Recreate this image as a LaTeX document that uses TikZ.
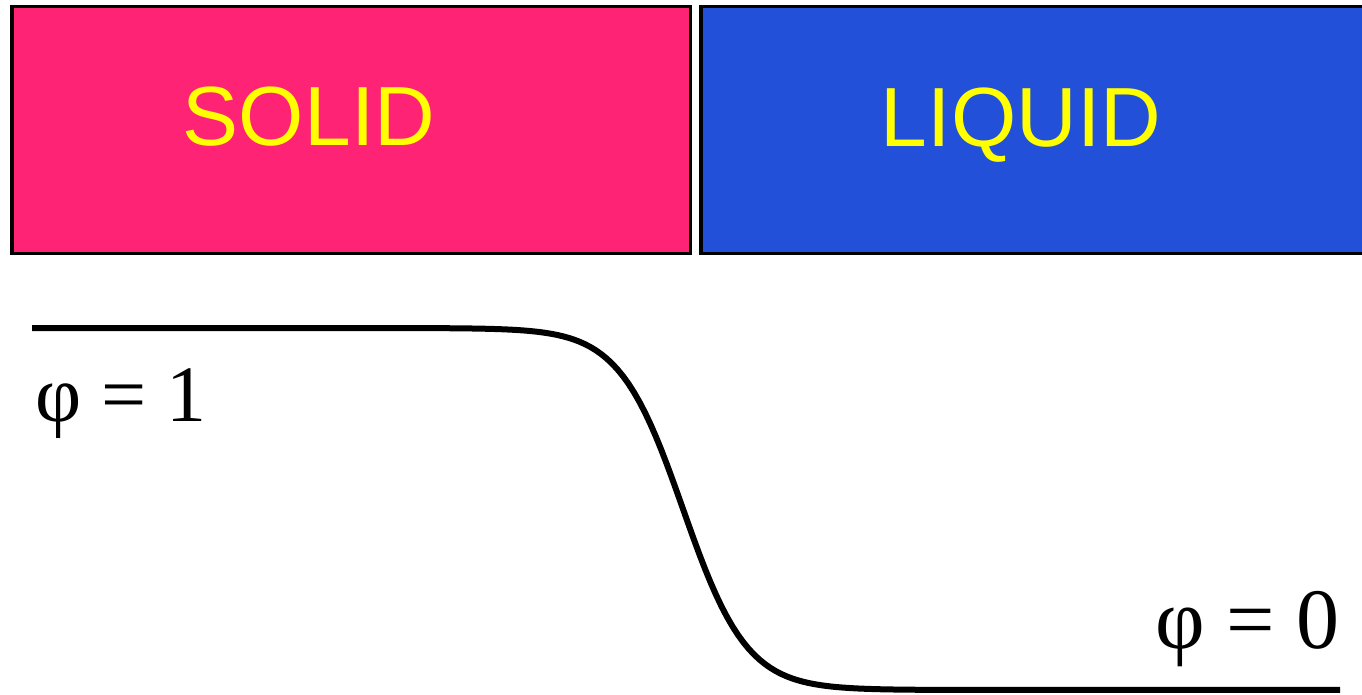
\documentclass[tikz,border=0pt]{standalone}
\usepackage{fontspec}
\usepackage{xcolor}
\usepackage{tikz}
\newfontfamily\boxfont{Liberation Sans}
\newfontfamily\phifont{Liberation Serif}
\definecolor{solidpink}{RGB}{255,35,118}
\definecolor{liquidblue}{RGB}{34,80,216}
\definecolor{labelyellow}{RGB}{255,255,0}

\begin{document}
\begin{tikzpicture}[x=1pt, y=-1pt,
        phase/.style={draw=black, line width=3.5pt},
        phasetext/.style={anchor=base, inner sep=0pt, text=labelyellow,
            font=\boxfont\fontsize{84}{90}\selectfont},
        philabel/.style={inner sep=0pt, font=\phifont\fontsize{80}{86}\selectfont}]
        \useasboundingbox (0,0) rectangle (1362,695);
        \filldraw[phase, fill=solidpink] (11.75,6.75) rectangle (690.25,253.25);
        \filldraw[phase, fill=liquidblue] (700.75,6.75) rectangle (1370,253.25);
        \node[phasetext] (solid) at (309,146) {SOLID};
        \node[phasetext] (liquid) at (1021,147) {LIQUID};
        % interface profile, argument clamped to keep exp() small
        \draw[line width=6pt] plot[domain=32:1340, samples=240]
            (\x, {509+181*tanh(max(-4,min(4,(\x-683)/64)))});
        \node[philabel, anchor=base west] (phione) at (35,421) {φ = 1};
        \node[philabel, anchor=base east, font=\phifont\fontsize{86}{92}\selectfont] (phizero) at (1340,648) {φ = 0};
    \end{tikzpicture}
\end{document}
